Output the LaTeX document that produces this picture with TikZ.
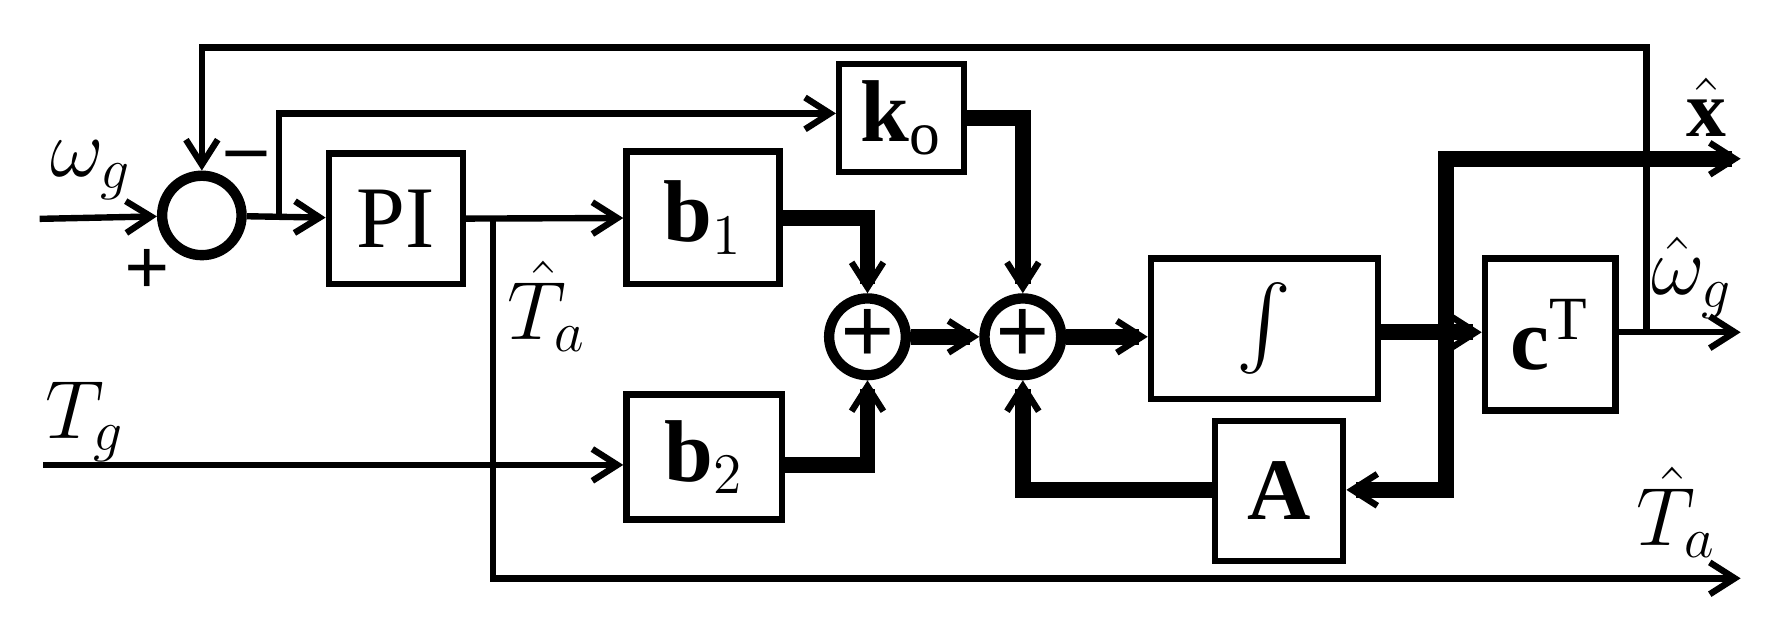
\documentclass[tikz,border=0pt]{standalone}
\usepackage{amsmath}
\usepackage{bm}
\usepackage{fontspec}
\setmainfont{Liberation Serif}
\usetikzlibrary{arrows.meta, positioning}
\tikzset{
  blk/.style={draw, line width=1.6pt, inner sep=0pt, font=\fontsize{22}{24}\selectfont},
  sum/.style={draw, circle, line width=2.6pt, minimum size=0.64cm, inner sep=0pt, font=\fontsize{24}{24}\selectfont\bfseries},
  thin/.style={line width=1.6pt, -{Straight Barb[length=2.2mm,width=2.8mm,line width=1.6pt]}},
  thk/.style={line width=4pt, -{Straight Barb[length=2.2mm,width=2.8mm,line width=1.6pt]}},
  lbl/.style={font=\fontsize{20}{22}\selectfont}
}
\begin{document}
\begin{tikzpicture}[x=0.01cm, y=-0.01cm]
    \useasboundingbox (0,0) rectangle (1560,561);

    % Nodes
    \node (s0) at (178,190)[sum, minimum size=0.7cm] {};
    \node (pi) at (349,193)[blk, minimum width=1.18cm, minimum height=1.15cm] {PI};
    \node (b1) at (620,192)[blk, minimum width=1.35cm, minimum height=1.17cm] {$\mathbf{b}_1$};
    \node (b2) at (621,403)[blk, minimum width=1.37cm, minimum height=1.1cm] {$\mathbf{b}_2$};
    \node (ko) at (795,104)[blk, minimum width=1.1cm, minimum height=0.95cm] {$\mathbf{k}_{\mathrm{o}}$};
    \node (s1) at (765,297)[sum] {+};
    \node (s2) at (902,297)[sum] {+};
    \node (in) at (1115,290)[blk, minimum width=2cm, minimum height=1.24cm] {$\int$};
    \node (ct) at (1367,295)[blk, minimum width=1.15cm, minimum height=1.34cm] {$\mathbf{c}^{\mathrm{T}}$};
    \node (am) at (1128,433)[blk, minimum width=1.13cm, minimum height=1.23cm] {$\mathbf{A}$};

    \coordinate (wg) at (35,193);
    \coordinate (tg) at (38,410);
    \coordinate (xo) at (1535,140);
    \coordinate (wo) at (1535,293);
    \coordinate (to) at (1535,510);

    % labels
    \node[lbl] at (80,150) {$\omega_g$};
    \node[lbl] at (130,240) {\textbf{+}};
    \node[lbl] at (218,143) {\textbf{\char"2013}};
    \node[lbl] at (482,270) {$\hat{T}_a$};
    \node[lbl] at (75,372) {$T_g$};
    \node[lbl] at (1505,95) {$\hat{\mathbf{x}}$};
    \node[lbl] at (1492,245) {$\hat{\omega}_g$};
    \node[lbl] at (1478,452) {$\hat{T}_a$};

    % edges
    \draw[thin] (wg) -- (s0);
    \draw[thin] (s0) -- (pi);
    \draw[thin] (246,193) -- (246,100) -- (ko.west |- 0,100);
    \draw[thin] (pi) -- (b1);
    \draw[thin] (435,193) -- (435,510) -- (to);
    \draw[thin] (tg) -- (b2.west |- tg);
    \draw[thk] (b1.east) -| (s1);
    \draw[thk] (b2.east |- 0,410) -| (s1);
    \draw[thk] (ko.east) -| (s2);
    \draw[thk] (s1) -- (s2);
    \draw[thk] (s2) -- (in.west |- s2);
    \draw[thk] (in.east |- 0,293) -- (ct.west |- 0,293);
    \draw[thk] (1275,293) -- (1275,140) -- (xo);
    \draw[thk] (1275,293) -- (1275,432) -- (am.east |- 0,432);
    \draw[thk] (am.west |- 0,432) -| (s2);
    \draw[thin] (ct.east |- 0,293) -- (wo);
    \draw[thin] (1452,293) -- (1452,42) -- (178,42) -- (s0);
\end{tikzpicture}
\end{document}
